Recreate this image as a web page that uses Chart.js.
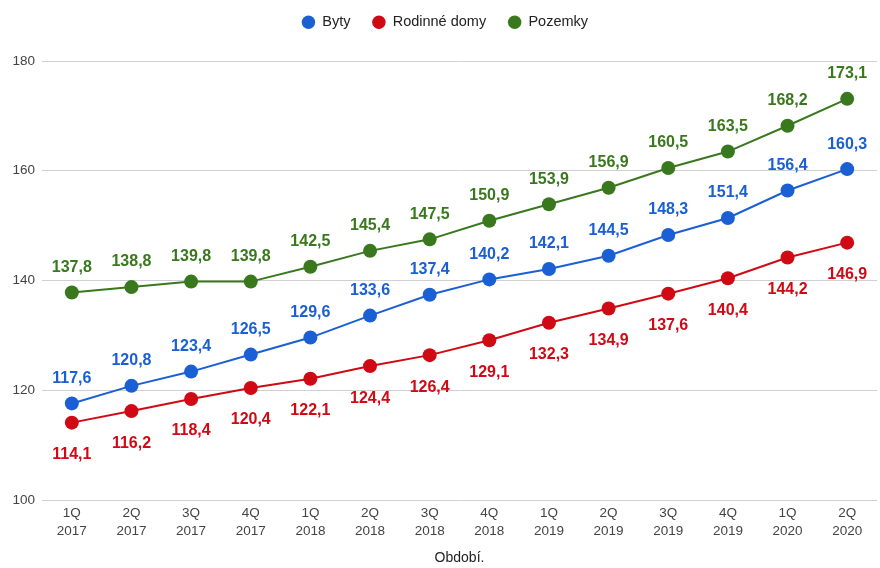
<!DOCTYPE html>
<html>
<head>
<meta charset="utf-8">
<script src="https://cdn.jsdelivr.net/npm/chart.js@4.4.1/dist/chart.umd.min.js"></script>
<style>
  html, body { margin: 0; padding: 0; background: #ffffff; overflow: hidden; }
  #wrap { position: absolute; left: 0; top: 0; width: 884px; height: 568px; }
</style>
</head>
<body>
<div id="wrap"><canvas id="c" width="884" height="568"></canvas></div>
<script>
const categories = [
  ["1Q","2017"],["2Q","2017"],["3Q","2017"],["4Q","2017"],
  ["1Q","2018"],["2Q","2018"],["3Q","2018"],["4Q","2018"],
  ["1Q","2019"],["2Q","2019"],["3Q","2019"],["4Q","2019"],
  ["1Q","2020"],["2Q","2020"]
];
const byty = [117.6,120.8,123.4,126.5,129.6,133.6,137.4,140.2,142.1,144.5,148.3,151.4,156.4,160.3];
const rodinneDomy = [114.1,116.2,118.4,120.4,122.1,124.4,126.4,129.1,132.3,134.9,137.6,140.4,144.2,146.9];
const pozemky = [137.8,138.8,139.8,139.8,142.5,145.4,147.5,150.9,153.9,156.9,160.5,163.5,168.2,173.1];
const yTicks = [100,120,140,160,180];
const xTitle = "Období.";

const BLUE = "#1a5fd3", RED = "#cf0a14", GREEN = "#3a781e";
const FONT = "'Liberation Sans', Arial, sans-serif";

const legendTweak = {
  id: 'legendTweak',
  beforeInit(chart) {
    const l = chart.legend;
    if (!l) return;
    const fit = l.fit;
    l.fit = function() { fit.call(l); this.height = 68; };
  },
  afterLayout(chart) {
    const l = chart.legend;
    if (!l) return;
    l.left += 4; l.right += 4;
  }
};

const valueLabels = {
  id: 'valueLabels',
  afterDatasetsDraw(chart) {
    const ctx = chart.ctx;
    ctx.save();
    ctx.font = "bold 16px " + FONT;
    ctx.textAlign = "center";
    ctx.textBaseline = "middle";
    chart.data.datasets.forEach((ds, i) => {
      const meta = chart.getDatasetMeta(i);
      const off = ds.labelOffset;
      meta.data.forEach((pt, j) => {
        const v = ds.data[j];
        ctx.fillStyle = ds.borderColor;
        ctx.fillText(v.toFixed(1).replace('.', ','), pt.x, pt.y + off);
      });
    });
    ctx.restore();
  }
};

new Chart(document.getElementById('c'), {
  type: 'line',
  data: {
    labels: categories,
    datasets: [
      { label: 'Byty', data: byty, borderColor: BLUE, backgroundColor: BLUE, labelOffset: -25 },
      { label: 'Rodinné domy', data: rodinneDomy, borderColor: RED, backgroundColor: RED, labelOffset: 32 },
      { label: 'Pozemky', data: pozemky, borderColor: GREEN, backgroundColor: GREEN, labelOffset: -25 }
    ].map(d => Object.assign(d, {
      borderWidth: 2, pointRadius: 7, pointHoverRadius: 7, pointBorderWidth: 0, tension: 0, fill: false
    }))
  },
  options: {
    responsive: false,
    animation: false,
    layout: { padding: { left: 0, right: 2, top: -7, bottom: 0 } },
    plugins: {
      tooltip: { enabled: false },
      legend: {
        position: 'top',
        align: 'center',
        labels: {
          usePointStyle: true, pointStyle: 'circle', boxWidth: 13, boxHeight: 9.5,
          padding: 22, color: '#222', font: { family: FONT, size: 14.5 }
        }
      }
    },
    scales: {
      x: {
        type: 'category',
        offset: true,
        grid: { display: false, drawTicks: false },
        border: { display: false },
        ticks: { color: '#444', font: { family: FONT, size: 13.5, lineHeight: 1.3 }, padding: 5, maxRotation: 0, autoSkip: false },
        title: { display: true, text: xTitle, color: '#222', font: { family: FONT, size: 14 }, padding: { top: 0, bottom: 1 } },
        afterFit(s) { s.height = 68; }
      },
      y: {
        min: 100, max: 180,
        afterBuildTicks(s) { s.ticks = yTicks.map(v => ({ value: v })); },
        grid: { color: '#d0d0d0', drawTicks: false, lineWidth: 1 },
        border: { display: false },
        ticks: { color: '#444', font: { family: FONT, size: 13.5 }, padding: 7 },
        afterFit(s) { s.width = 42; }
      }
    }
  },
  plugins: [legendTweak, valueLabels]
});
</script>
</body>
</html>
